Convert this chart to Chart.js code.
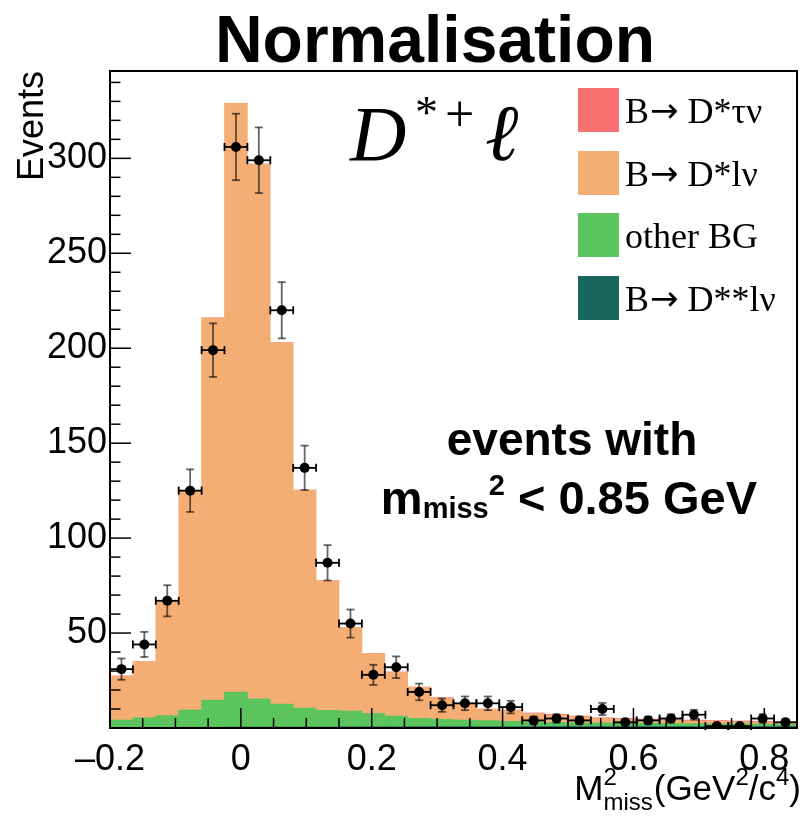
<!DOCTYPE html>
<html><head><meta charset="utf-8">
<script src="https://cdn.jsdelivr.net/npm/chart.js@4.4.0/dist/chart.umd.min.js"></script>
<style>html,body{margin:0;padding:0;background:#fff;}</style>
</head><body>
<canvas id="c" width="802" height="817"></canvas>
<script>
// ---- data ----
const binCenters = [-0.1825,-0.1475,-0.1125,-0.0775,-0.0425,-0.0075,0.0275,0.0625,0.0975,0.1325,
  0.1675,0.2025,0.2375,0.2725,0.3075,0.3425,0.3775,0.4125,0.4475,0.4825,
  0.5175,0.5525,0.5875,0.6225,0.6575,0.6925,0.7275,0.7625,0.7975,0.8325];
const binWidth = 0.035;
const dstarstarLnu = [0.3,0.3,0.3,0.4,0.4,0.5,0.5,0.5,0.5,0.5,
  0.6,0.6,0.6,0.7,0.7,0.7,0.7,0.7,0.8,0.8,0.8,0.8,0.8,0.8,0.8,0.8,0.8,0.8,0.8,0.8];
const otherBG = [3.9,5.1,6.2,9.1,14.3,18.4,14.8,12.1,10.0,8.8,
  8.4,7.1,5.7,4.4,3.9,3.5,3.2,2.8,2.4,2.2,2.0,1.9,1.8,1.7,1.6,1.5,1.4,1.4,1.3,1.2];
const dstarLnu = [23.2,29.5,60.5,115.4,201.3,310.1,281.7,190.4,114.8,68.2,
  44.0,31.6,23.1,16.4,11.2,8.6,5.9,5.8,4.4,3.9,3.2,2.4,2.0,1.8,1.6,1.5,1.3,1.1,1.0,0.9];
const dstarTaunu = [0,0,0,0,0,0,0,0,0,0,0,0,
  0.1,0.1,0.2,0.2,0.2,0.2,0.3,0.3,0.3,0.3,0.4,0.4,0.4,0.4,0.4,0.4,0.4,0.4];
const dataValues = [31,44,67,125,199,306,299,220,137,87,
  55,28,32,19,12,13,13,11,4,5,4,10,3,4,5,7,1,1,5,3];
const dataErrors = [5.6,6.6,8.2,11.2,14.1,17.5,17.3,14.8,11.7,9.3,
  7.4,5.3,5.7,4.4,3.5,3.6,3.6,3.3,2.0,2.2,2.0,3.2,1.7,2.0,2.2,2.6,1.0,1.0,2.2,1.7];
const xTickValues = [-0.2,0,0.2,0.4,0.6,0.8];
const xTickLabels = ['\u20130.2','0','0.2','0.4','0.6','0.8'];
const yTickValues = [50,100,150,200,250,300];
const yTickLabels = ['50','100','150','200','250','300'];
const legendLabels = ['B\u2192 D*\u03C4\u03BD','B\u2192 D*l\u03BD','other BG','B\u2192 D**l\u03BD'];

const SANS = '"Liberation Sans", Arial, Helvetica, sans-serif';
const SERIF = '"Liberation Serif", "Times New Roman", serif';
const ARROWFONT = '"DejaVu Sans", sans-serif';
const COL = {tau:'#F6716F', dsl:'#F4AE74', bg:'#5CC45C', dss:'#19665F'};

function line(ctx,x1,y1,x2,y2){ctx.beginPath();ctx.moveTo(x1,y1);ctx.lineTo(x2,y2);ctx.stroke();}

function drawPieces(ctx, pieces, xRef, baseY, align) {
  let total = 0;
  pieces.forEach(p => {
    if (p.stack) {
      let w = 0;
      p.stack.forEach(s => { ctx.font = s.font; w = Math.max(w, ctx.measureText(s.t).width); });
      p.w = w;
    } else { ctx.font = p.font; p.w = ctx.measureText(p.t).width; }
    total += p.w + (p.gap || 0);
  });
  let x = align === 'left' ? xRef : xRef - total;
  ctx.textAlign = 'left'; ctx.textBaseline = 'alphabetic';
  pieces.forEach(p => {
    if (p.stack) {
      p.stack.forEach(s => { ctx.font = s.font; ctx.fillText(s.t, x, baseY + s.dy); });
    } else { ctx.font = p.font; ctx.fillText(p.t, x, baseY + (p.dy || 0)); }
    x += p.w + (p.gap || 0);
  });
}

const decor = {
  id: 'decor',
  beforeDatasetDraw(chart, args) {
    if (args.index !== 4) return;
    const ctx = chart.ctx, xs = chart.scales.xl, ys = chart.scales.y;
    ctx.save();
    for (let i = 0; i < dataValues.length; i++) {
      const cx = xs.getPixelForValue(binCenters[i]);
      const cy = ys.getPixelForValue(dataValues[i]);
      const xa = xs.getPixelForValue(binCenters[i] - binWidth/2);
      const xb = xs.getPixelForValue(binCenters[i] + binWidth/2);
      const yt = ys.getPixelForValue(dataValues[i] + dataErrors[i]);
      const yb = ys.getPixelForValue(Math.max(0, dataValues[i] - dataErrors[i]));
      ctx.lineWidth = 1.8;
      ctx.strokeStyle = 'rgba(0,0,0,0.6)';
      line(ctx, cx, yt, cx, yb);
      line(ctx, cx-4, yt, cx+4, yt);
      line(ctx, cx-4, yb, cx+4, yb);
      ctx.strokeStyle = '#000';
      line(ctx, xa, cy, xb, cy);
      line(ctx, xa, cy-4, xa, cy+4);
      line(ctx, xb, cy-4, xb, cy+4);
    }
    ctx.restore();
  },
  afterDatasetsDraw(chart) {
    const ctx = chart.ctx, a = chart.chartArea, xs = chart.scales.xl, ys = chart.scales.y;
    ctx.save();
    ctx.strokeStyle = '#000'; ctx.lineWidth = 1.5;
    for (let v = -0.2; v <= 0.851; v += 0.05) {
      const x = xs.getPixelForValue(v);
      const major = xTickValues.some(t => Math.abs(t - v) < 1e-6);
      line(ctx, x, a.bottom, x, a.bottom - (major ? 20 : 10));
    }
    for (let v = 0; v <= ys.max; v += 10) {
      const y = ys.getPixelForValue(v);
      const major = v % 50 === 0;
      line(ctx, a.left, y, a.left + (major ? 21 : 10.5), y);
    }
    ctx.lineWidth = 2;
    ctx.strokeRect(a.left, a.top, a.right - a.left, a.bottom - a.top);
    ctx.restore();
  },
  afterDraw(chart) {
    const ctx = chart.ctx;
    ctx.save();
    ctx.fillStyle = '#000';
    // title
    ctx.font = 'bold 66px ' + SANS; ctx.textAlign = 'center'; ctx.textBaseline = 'alphabetic';
    ctx.fillText('Normalisation', 435, 62);
    // y title
    ctx.save(); ctx.translate(43, 71); ctx.rotate(-Math.PI/2);
    ctx.font = '36px ' + SANS; ctx.textAlign = 'right'; ctx.fillText('Events', 0, 0);
    ctx.restore();
    // x title
    const big = '35px ' + SANS, small = '24px ' + SANS;
    drawPieces(ctx, [
      {t:'M', font: big},
      {stack:[{t:'2', font: small, dy:-15},{t:'miss', font: small, dy: 10}], gap: 1},
      {t:'(GeV', font: big},
      {t:'2', font: small, dy:-15},
      {t:'/c', font: big},
      {t:'4', font: small, dy:-15},
      {t:')', font: big}
    ], 801, 800);
    // annotation
    ctx.font = 'bold 46px ' + SANS; ctx.textAlign = 'center';
    ctx.fillText('events with', 572, 455);
    drawPieces(ctx, [
      {t:'m', font:'bold 47px ' + SANS},
      {t:'miss', font:'bold 29px ' + SANS, dy: 4},
      {t:'2', font:'bold 29px ' + SANS, dy: -19},
      {t:' < 0.85 GeV', font:'bold 47px ' + SANS}
    ], 757, 514);
    // D*+l
    ctx.textAlign = 'left';
    ctx.font = 'italic 78px ' + SERIF; ctx.fillText('D', 350, 160);
    ctx.font = '46px ' + SERIF; ctx.fillText('*', 415, 128);
    ctx.font = '52px ' + SERIF; ctx.fillText('+', 445, 131);
    ctx.font = 'italic 80px ' + SERIF; ctx.fillText('\u2113', 485, 160);
    // legend
    const order = [3, 2, 1, 0];
    const ys0 = [88, 151, 213, 276];
    order.forEach((di, k) => {
      const ds = chart.data.datasets[di];
      ctx.fillStyle = ds.backgroundColor;
      ctx.fillRect(578, ys0[k], 41, 44);
      ctx.fillStyle = '#000';
      const base = ys0[k] + 35;
      const parts = ds.label.split('\u2192');
      if (parts.length === 2) {
        drawPieces(ctx, [
          {t: parts[0], font: '36px ' + SERIF, gap: 1},
          {t: '\u2192', font: '34px ' + ARROWFONT, dy: -1},
          {t: parts[1], font: '36px ' + SERIF}
        ], 625, base, 'left');
      } else {
        ctx.font = '36px ' + SERIF; ctx.textAlign = 'left';
        ctx.fillText(ds.label, 625, base);
      }
    });
    ctx.restore();
  }
};

const barCommon = {type:'bar', xAxisID:'x', yAxisID:'y', stack:'h', borderWidth:0, order:1,
  grouped:false, barPercentage:1.0, categoryPercentage:1.0};

new Chart(document.getElementById('c'), {
  data: {
    labels: binCenters.map(String),
    datasets: [
      Object.assign({label: legendLabels[3], data: dstarstarLnu, backgroundColor: COL.dss}, barCommon),
      Object.assign({label: legendLabels[2], data: otherBG, backgroundColor: COL.bg}, barCommon),
      Object.assign({label: legendLabels[1], data: dstarLnu, backgroundColor: COL.dsl}, barCommon),
      Object.assign({label: legendLabels[0], data: dstarTaunu, backgroundColor: COL.tau}, barCommon),
      {type:'scatter', label:'data', xAxisID:'xl', yAxisID:'y', stack:'pts', order:0,
        data: binCenters.map((x, i) => ({x: x, y: dataValues[i]})),
        pointRadius: 5, pointBackgroundColor:'#000', pointBorderWidth:0, showLine:false}
    ]
  },
  options: {
    responsive: false, animation: false, devicePixelRatio: 1,
    layout: {padding: {top: 71, right: 1, left: 0, bottom: 0}},
    plugins: {legend: {display:false}, tooltip: {enabled:false}, title:{display:false}},
    scales: {
      x: {type:'category', display:false, stacked:true, offset:true},
      xl: {type:'linear', position:'bottom', min:-0.2, max:0.85,
        grid:{display:false, drawTicks:false}, border:{display:false},
        afterBuildTicks: s => { s.ticks = xTickValues.map(v => ({value:v})); },
        afterFit: s => { s.height = 89; },
        ticks:{autoSkip:false, maxRotation:0, padding:10, color:'#000',
          font:{family: SANS, size:36}, callback: (v, i) => xTickLabels[i]}},
      y: {type:'linear', position:'left', min:0, max:346, stacked:true,
        grid:{display:false, drawTicks:false}, border:{display:false},
        afterBuildTicks: s => { s.ticks = yTickValues.map(v => ({value:v})); },
        afterFit: s => { s.width = 110; },
        ticks:{padding:3, color:'#000', font:{family: SANS, size:36},
          callback: (v, i) => yTickLabels[i]}}
    }
  },
  plugins: [decor]
});
</script>
</body></html>
